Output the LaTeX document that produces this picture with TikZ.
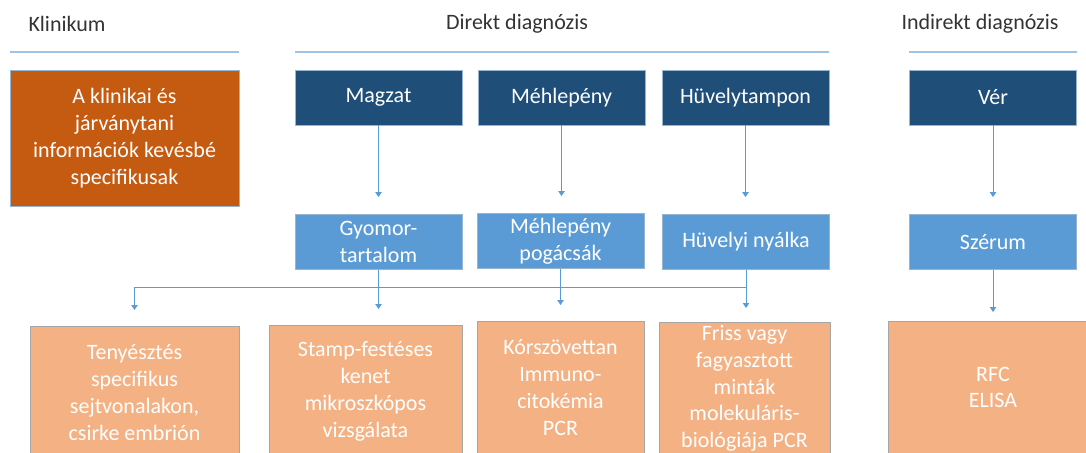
\documentclass[tikz,border=0pt]{standalone}
\usepackage{fontspec}
\setmainfont{Carlito}
\usetikzlibrary{arrows.meta}
\definecolor{darkBlue}{RGB}{31,78,121}
\definecolor{midBlue}{RGB}{91,155,213}
\definecolor{darkOrange}{RGB}{197,90,17}
\definecolor{lightOrange}{RGB}{244,177,131}
\definecolor{lineBlue}{RGB}{157,195,230}
\tikzset{
  box/.style={rectangle, draw=lineBlue!80!gray, line width=0.4pt, text=white, align=center, inner sep=0pt, font=\fontsize{11}{13.4}\selectfont},
  topbox/.style={box, fill=darkBlue, minimum width=83.5pt, minimum height=27.5pt},
  midbox/.style={box, fill=midBlue, minimum width=83.5pt, minimum height=27.5pt},
  resbox/.style={box, fill=lightOrange, draw=gray!70, anchor=north, minimum height=66pt},
  head/.style={font=\fontsize{11}{13.4}\selectfont, text=black!80},
  rule/.style={lineBlue, line width=0.6pt},
  link/.style={midBlue, line width=0.5pt},
  arrowed/.style={-{Triangle[length=2.5pt,width=3.2pt]}},
}
\begin{document}
\begin{tikzpicture}[x=0.5pt,y=-0.5pt]
\useasboundingbox (0,0) rectangle (1086,452);
\clip (0,0) rectangle (1086,452);

% Headings
\node [head] (hklin) at (67,24) {Klinikum};
\node [head] (hdir) at (517,24) {Direkt diagnózis};
\node [head] (hind) at (980,24) {Indirekt diagnózis};
\draw [rule] (10,52) -- (239,52);
\draw [rule] (295,52) -- (829,52);
\draw [rule] (909,52) -- (1077,52);

% Top row
\node [box, fill=darkOrange, minimum width=114.5pt, minimum height=68pt] (klin) at (124.5,138) {A klinikai és\\járványtani\\információk kevésbé\\specifikusak};
\node [topbox] (magzat) at (378.5,97.5) {Magzat};
\node [topbox] (mehlep) at (561.5,97.5) {Méhlepény};
\node [topbox] (huvely) at (745.5,97.5) {Hüvelytampon};
\node [topbox] (ver) at (993,97.5) {Vér};

% Middle row
\node [midbox] (gyomor) at (378.5,242) {Gyomor-\\tartalom};
\node [midbox] (pogacsa) at (560.5,241) {Méhlepény\\pogácsák};
\node [midbox] (nyalka) at (746,242) {Hüvelyi nyálka};
\node [midbox] (szerum) at (993,242) {Szérum};

% Bottom row
\node [resbox, minimum width=104.5pt] (teny) at (134.5,326) {Tenyésztés\\specifikus\\sejtvonalakon,\\csirke embrión};
\node [resbox, minimum width=96.5pt] (stamp) at (365.5,325) {Stamp-festéses\\kenet\\mikroszkópos\\vizsgálata};
\node [resbox, minimum width=83.5pt] (korsz) at (560.5,321) {Kórszövettan\\Immuno-\\citokémia\\PCR};
\node [resbox, minimum width=85.5pt] (friss) at (744.5,322) {Friss vagy\\fagyasztott\\minták\\molekuláris-\\biológiája PCR};
\node [resbox, minimum width=105pt] (rfc) at (993,321) {RFC\\ELISA};

% Arrows top -> middle
\draw [link, arrowed, shorten >=8.5pt] (magzat.south) -- (magzat.south |- gyomor.north);
\draw [link, arrowed, shorten >=8.5pt] (mehlep.south) -- (mehlep.south |- pogacsa.north);
\draw [link, arrowed, shorten >=8.5pt] (huvely.south) -- (huvely.south |- nyalka.north);
\draw [link, arrowed, shorten >=8.5pt] (ver.south) -- (ver.south |- szerum.north);

% Bus
\coordinate (bus) at (0,287);
\draw [link] (teny.north |- bus) -- (nyalka.south |- bus);
\draw [link] (gyomor.south) -- (gyomor.south |- bus);
\draw [link] (pogacsa.south) -- (pogacsa.south |- bus);
\draw [link] (nyalka.south) -- (nyalka.south |- bus);

% Arrows bus -> bottom
\draw [link, arrowed, shorten >=8pt] (teny.north |- bus) -- (teny.north);
\draw [link, arrowed, shorten >=8pt] (gyomor.south |- bus) -- (gyomor.south |- stamp.north);
\draw [link, arrowed, shorten >=8pt] (pogacsa.south |- bus) -- (pogacsa.south |- korsz.north);
\draw [link, arrowed, shorten >=7pt] (nyalka.south |- bus) -- (nyalka.south |- friss.north);
\draw [link, arrowed, shorten >=4.5pt] (szerum.south) -- (szerum.south |- rfc.north);

\end{tikzpicture}
\end{document}
